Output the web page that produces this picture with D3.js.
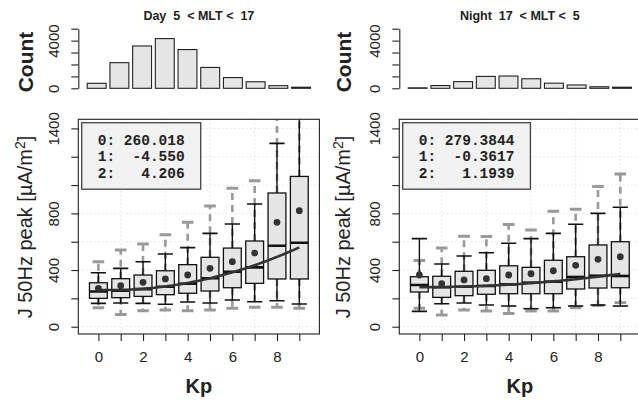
<!DOCTYPE html>
<html><head><meta charset="utf-8">
<script src="https://cdn.jsdelivr.net/npm/d3@7"></script>
<style>
body{margin:0;background:#fff}
svg{display:block;font-family:"Liberation Sans",Arial,Helvetica,sans-serif}
</style>
</head><body><svg id="c" width="638" height="402"></svg>
<script>
// ---------- data ----------
const kp = [0,1,2,3,4,5,6,7,8,9];

const dayCount   = [420, 2150, 3550, 4170, 3250, 1750, 900, 550, 220, 90];
const nightCount = [40, 230, 560, 1000, 1030, 800, 430, 280, 130, 90];

const dayLo2  = [134, 87, 113, 118, 113, 118, 130, 137, 137, 130];
const dayLo   = [165, 167, 165, 158, 174, 167, 188, 176, 183, 160];
const dayQ1   = [200, 205, 214, 226, 236, 252, 275, 306, 337, 337];
const dayMed  = [248, 255, 265, 282, 303, 342, 388, 419, 572, 593];
const dayQ3   = [310, 339, 365, 395, 438, 490, 555, 605, 944, 1061];
const dayHi   = [381, 412, 459, 513, 558, 659, 725, 866, 1294, 1700];
const dayHi2  = [459, 541, 584, 649, 737, 852, 977, 1031, 1800, 2100];
const dayMean = [271, 289, 313, 337, 365, 412, 459, 520, 737, 819];

const nightLo2  = [130, 83, 118, 111, 94, 111, 111, 134, 150, 170];
const nightLo   = [108, 162, 167, 153, 146, 127, 134, 146, 153, 146];
const nightQ1   = [245, 207, 219, 229, 233, 233, 233, 266, 273, 275];
const nightMed  = [294, 278, 282, 287, 299, 311, 318, 351, 360, 358];
const nightQ3   = [353, 356, 391, 398, 430, 419, 469, 494, 577, 600];
const nightHi   = [622, 443, 499, 522, 589, 622, 659, 723, 800, 843];
const nightHi2  = [468, 555, 638, 636, 722, 682, 815, 830, 990, 1078];
const nightMean = [365, 304, 330, 339, 365, 374, 395, 433, 476, 494];

const dayCoef = [260.018, -4.550, 4.206];
const dayCoefText = ["260.018", "-4.550", "4.206"];
const nightCoef = [279.3844, -0.3617, 1.1939];
const nightCoefText = ["279.3844", "-0.3617", "1.1939"];

const yTicks = [0,200,400,600,800,1000,1200,1400];
const yTickLabels = ["0","","400","","800","","","1400"];
const xTickLabels = ["0","","2","","4","","6","","8",""];
const countTicks = [0,1000,2000,3000,4000,5000];
const countTickLabels = ["0","","","","4000",""];
const gridKp = [1,3,5,7,9];

const titles = ["Day  5  < MLT <  17", "Night  17  < MLT <  5"];

// ---------- drawing ----------
const svg = d3.select("#c");
svg.append("rect").attr("width",638).attr("height",402).attr("fill","#fff");

function rotateY(axisG, off){
  axisG.selectAll(".tick text")
    .attr("x",0).attr("y",0).attr("dy",0)
    .attr("text-anchor","middle")
    .attr("transform",`translate(${-off},0) rotate(-90)`);
}

function panel(idx, ox, lox, counts, lo2, lo, q1, med, q3, hi, hi2, mean, coef, coefText){
  const g = svg.append("g");
  const x0 = 78.3 + ox, x1 = 319.4 + ox;
  const pTop = 119.3, pBot = 334;

  // ---- histogram ----
  const hx = d3.scaleLinear().domain([-0.272, 12.472]).range([x0, x1]);
  const hy = d3.scaleLinear().domain([0, 5000]).range([88.3, 28.7]);
  g.append("g").selectAll("rect").data(counts).join("rect")
    .attr("x",(d,i)=>hx(0.2+1.2*i)).attr("width",hx(1)-hx(0))
    .attr("y",d=>hy(d)).attr("height",d=>hy(0)-hy(d))
    .attr("fill","#e5e5e5").attr("stroke","#222").attr("stroke-width",1.1);
  const ha = g.append("g").attr("transform",`translate(${x0},0)`)
    .call(d3.axisLeft(hy).tickValues(countTicks).tickSize(7).tickSizeOuter(0)
      .tickFormat((d,i)=>countTickLabels[i]));
  ha.selectAll("path,line").attr("stroke","#222").attr("stroke-width",1.1);
  ha.selectAll("text").attr("font-size",15).attr("fill","#222").attr("font-family",null);
  rotateY(ha, 19.5);

  g.append("text").attr("x",(x0+x1)/2).attr("y",19.5).attr("text-anchor","middle")
    .attr("font-size",12.5).attr("font-weight","bold").attr("fill","#222")
    .style("white-space","pre").text(titles[idx]);
  g.append("text").attr("transform",`translate(${lox+33},62) rotate(-90)`)
    .attr("text-anchor","middle").attr("font-size",21).attr("font-weight","bold")
    .attr("fill","#222").text("Count");

  // ---- box plot ----
  const xs = d3.scaleLinear().domain([-0.9, 9.9]).range([x0, x1]);
  const ys = d3.scaleLinear().domain([0, 1400]).range([326.7, 128.4]);
  const clipId = "clip"+idx;
  svg.append("clipPath").attr("id",clipId).append("rect")
    .attr("x",x0).attr("y",pTop).attr("width",x1-x0).attr("height",pBot-pTop);
  const pg = g.append("g").attr("clip-path",`url(#${clipId})`);

  // grid
  pg.selectAll(".gh").data(yTicks).join("line")
    .attr("x1",x0).attr("x2",x1).attr("y1",d=>ys(d)).attr("y2",d=>ys(d))
    .attr("stroke","#d3d3d3").attr("stroke-dasharray","1,3");
  pg.selectAll(".gv").data(gridKp).join("line")
    .attr("x1",d=>xs(d)).attr("x2",d=>xs(d)).attr("y1",pTop).attr("y2",pBot)
    .attr("stroke","#d3d3d3").attr("stroke-dasharray","1,3");

  const hw = (xs(0.4)-xs(0));
  const cap2 = (xs(0.26)-xs(0));
  const cap1 = (xs(0.34)-xs(0));
  // grey dashed whiskers
  kp.forEach((k,i)=>{
    const cx = xs(k);
    pg.append("line").attr("x1",cx).attr("x2",cx).attr("y1",ys(q3[i])).attr("y2",ys(hi2[i]))
      .attr("stroke","#999").attr("stroke-width",2.6).attr("stroke-dasharray","7,5");
    pg.append("line").attr("x1",cx).attr("x2",cx).attr("y1",ys(q1[i])).attr("y2",ys(lo2[i]))
      .attr("stroke","#999").attr("stroke-width",2.6).attr("stroke-dasharray","7,5");
    [hi2[i], lo2[i]].forEach(v=>{
      pg.append("line").attr("x1",cx-cap2).attr("x2",cx+cap2).attr("y1",ys(v)).attr("y2",ys(v))
        .attr("stroke","#999").attr("stroke-width",3);
    });
  });
  // black whiskers
  kp.forEach((k,i)=>{
    const cx = xs(k);
    pg.append("line").attr("x1",cx).attr("x2",cx).attr("y1",ys(lo[i])).attr("y2",ys(hi[i]))
      .attr("stroke","#111").attr("stroke-width",1.4);
    [hi[i], lo[i]].forEach(v=>{
      pg.append("line").attr("x1",cx-cap1).attr("x2",cx+cap1).attr("y1",ys(v)).attr("y2",ys(v))
        .attr("stroke","#111").attr("stroke-width",1.6);
    });
  });
  // boxes
  pg.selectAll(".box").data(kp).join("rect")
    .attr("x",d=>xs(d)-hw).attr("width",2*hw)
    .attr("y",(d,i)=>ys(q3[i])).attr("height",(d,i)=>ys(q1[i])-ys(q3[i]))
    .attr("fill","#e5e5e5").attr("stroke","#111").attr("stroke-width",1.3);
  pg.selectAll(".med").data(kp).join("line")
    .attr("x1",d=>xs(d)-hw).attr("x2",d=>xs(d)+hw)
    .attr("y1",(d,i)=>ys(med[i])).attr("y2",(d,i)=>ys(med[i]))
    .attr("stroke","#111").attr("stroke-width",2.6);
  // fit curve from coefficients
  const fit = d3.range(0, 9.001, 0.1).map(t=>[t, coef[0]+coef[1]*t+coef[2]*t*t]);
  pg.append("path").datum(fit)
    .attr("d", d3.line().x(d=>xs(d[0])).y(d=>ys(d[1])))
    .attr("fill","none").attr("stroke","#333").attr("stroke-width",2.6);
  // means
  pg.selectAll(".mean").data(kp).join("circle")
    .attr("cx",d=>xs(d)).attr("cy",(d,i)=>ys(mean[i])).attr("r",3.4)
    .attr("fill","#333");

  // frame
  g.append("rect").attr("x",x0).attr("y",pTop).attr("width",x1-x0).attr("height",pBot-pTop)
    .attr("fill","none").attr("stroke","#222").attr("stroke-width",1.1);

  // axes
  const ax = g.append("g").attr("transform",`translate(0,${pBot})`)
    .call(d3.axisBottom(xs).tickValues(kp).tickSize(7).tickSizeOuter(0)
      .tickFormat((d,i)=>xTickLabels[i]));
  ax.select(".domain").remove();
  ax.selectAll("line").attr("stroke","#222").attr("stroke-width",1.1);
  ax.selectAll("text").attr("font-size",15).attr("fill","#222").attr("font-family",null)
    .attr("y",null).attr("dy",null).attr("transform","translate(0,28)");
  const ay = g.append("g").attr("transform",`translate(${x0},0)`)
    .call(d3.axisLeft(ys).tickValues(yTicks).tickSize(7).tickSizeOuter(0)
      .tickFormat((d,i)=>yTickLabels[i]));
  ay.select(".domain").remove();
  ay.selectAll("line").attr("stroke","#222").attr("stroke-width",1.1);
  ay.selectAll("text").attr("font-size",15).attr("fill","#222").attr("font-family",null);
  rotateY(ay, 19.5);

  g.append("text").attr("x",(x0+x1)/2).attr("y",393).attr("text-anchor","middle")
    .attr("font-size",20).attr("font-weight","bold").attr("fill","#222").text("Kp");
  const yl = g.append("text").attr("transform",`translate(${lox+32},227) rotate(-90)`)
    .attr("text-anchor","middle").attr("font-size",20).attr("fill","#222");
  yl.append("tspan").text("J 50Hz peak [\u00b5A/m");
  yl.append("tspan").attr("font-size",14).attr("dy",-7).text("2");
  yl.append("tspan").attr("dy",7).text("]");

  // legend
  const w = coefText[0].length + 1;
  const lines = coefText.map((t,i)=>`${i}: ` + t.padStart(w-1));
  const lg = g.append("g");
  const lw = (lines[0].length)*8.7 + 32;
  lg.append("rect").attr("x",x0+3.4).attr("y",pTop+3.4).attr("width",lw).attr("height",66.5)
    .attr("fill","#f2f2f2").attr("stroke","#444").attr("stroke-width",1.3);
  lg.selectAll("text").data(lines).join("text")
    .attr("x",x0+19.4).attr("y",(d,i)=>pTop+25.2+i*16.5)
    .attr("font-family","'Liberation Mono','Courier New',monospace")
    .attr("font-weight","bold").attr("font-size",14.5).attr("fill","#222")
    .style("white-space","pre").text(d=>d);
}

panel(0, 0, 0, dayCount, dayLo2, dayLo, dayQ1, dayMed, dayQ3, dayHi, dayHi2, dayMean, dayCoef, dayCoefText);
panel(1, 321, 318, nightCount, nightLo2, nightLo, nightQ1, nightMed, nightQ3, nightHi, nightHi2, nightMean, nightCoef, nightCoefText);
</script>
</body></html>
